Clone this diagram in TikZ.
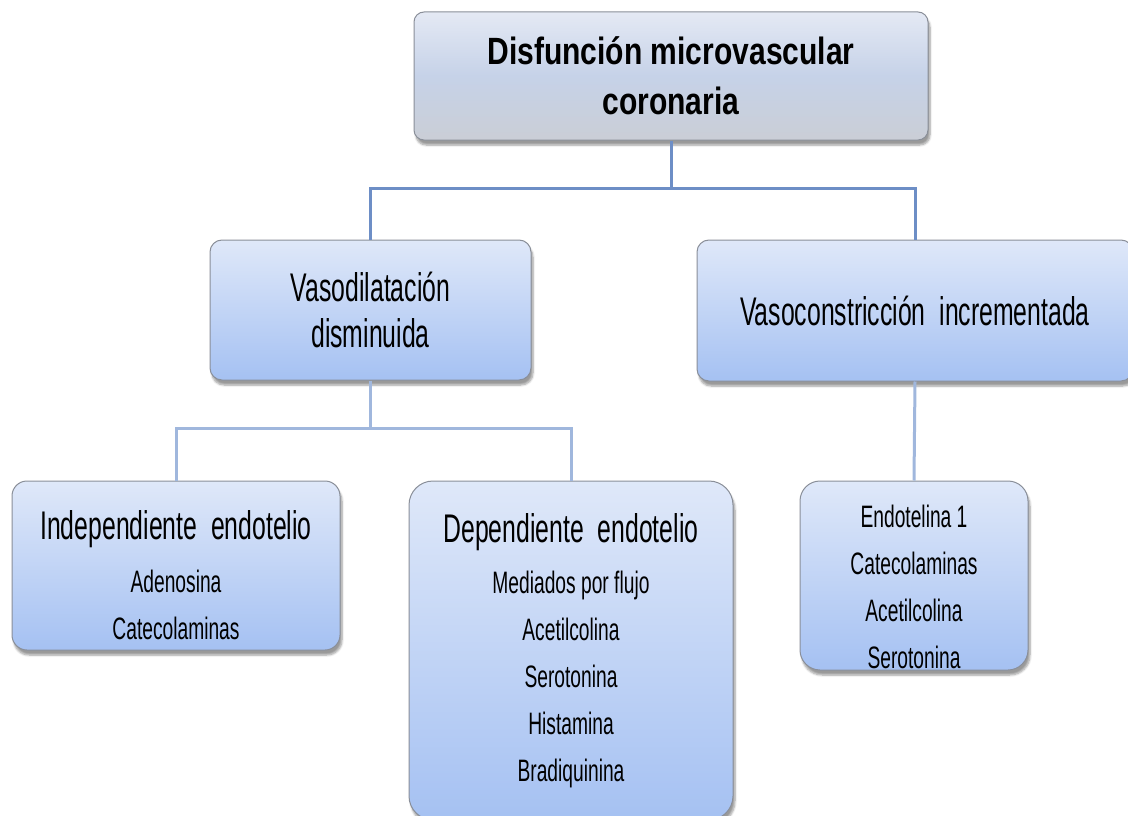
\documentclass[tikz,border=0pt]{standalone}
\usepackage{fontspec}
\setmainfont{Liberation Sans}[FakeStretch=0.62]
\newfontfamily\titlefont{Liberation Sans}[FakeStretch=0.79]
\usepackage{tikz}
\usetikzlibrary{calc}
\usetikzlibrary{positioning}
\usetikzlibrary{shadows.blur}

\definecolor{boxtop}{HTML}{DFE8F9}
\definecolor{boxbot}{HTML}{A5C1F2}
\definecolor{titletop}{HTML}{E4E9F4}
\definecolor{titlemid}{HTML}{C6D2E8}
\definecolor{titlebot}{HTML}{CACED6}
\definecolor{boxline}{HTML}{8A8F99}
\definecolor{linkdark}{HTML}{6D8EC6}
\definecolor{linklight}{HTML}{A0B7DD}

\begin{document}
\begin{tikzpicture}[x=1pt, y=-1pt,
	caja/.style={draw=boxline, line width=1pt, top color=boxtop, bottom color=boxbot, align=center, inner sep=0pt,
		blur shadow={shadow xshift=2pt, shadow yshift=-5pt, shadow blur steps=6, shadow opacity=40}},
	big/.style={font=\fontsize{40}{46}\selectfont},
	small/.style={font=\fontsize{31}{47}\selectfont},
	link/.style={line width=3pt, linkdark},
	sublink/.style={line width=3pt, linklight}]
	
	\clip (0,0) rectangle (1128,816);
	
	\node[caja, top color=titletop, bottom color=titlebot, middle color=titlemid, rounded corners=10pt,
		minimum width=514, minimum height=128, font=\titlefont\bfseries\fontsize{38}{50}\selectfont] (disf) at (671,76) {Disfunción microvascular\\coronaria};
	
	\node[caja, big, rounded corners=12pt, minimum width=321, minimum height=140] (vdil) at (370.5,310) {Vasodilatación\\disminuida};
	\node[caja, big, rounded corners=12pt, minimum width=436, minimum height=141] (vcon) at (915,310.5) {Vasoconstricción~ incrementada};
	
	\node[caja, small, rounded corners=15pt, minimum width=328, minimum height=169] (indep) at (176,565.5)
		{\rule{0pt}{48pt}{\fontsize{40}{46}\selectfont Independiente~ endotelio}\\[6pt] Adenosina\\Catecolaminas};
	\node[caja, small, rounded corners=24pt, minimum width=324, minimum height=339] (dep) at (571,650.5)
		{{\fontsize{40}{46}\selectfont Dependiente~ endotelio}\\[4pt] Mediados por flujo\\Acetilcolina\\Serotonina\\Histamina\\Bradiquinina};
	\node[caja, small, rounded corners=20pt, minimum width=228, minimum height=189] (vcitems) at (914,575.5)
		{\rule{0pt}{46pt}Endotelina 1\\Catecolaminas\\Acetilcolina\\Serotonina};
	
	\coordinate (jt) at (671,188);
	\coordinate (jv) at (370.5,428);
	
	\draw[link] (disf.south) -- (jt);
	\draw[link] (vdil.north) |- (jt) -| (vcon.north);
	\draw[sublink] (vdil.south) -- (jv);
	\draw[sublink] (indep.north) |- (jv) -| (dep.north);
	\draw[sublink] (vcon.south) -- (vcitems.north);
\end{tikzpicture}
\end{document}
